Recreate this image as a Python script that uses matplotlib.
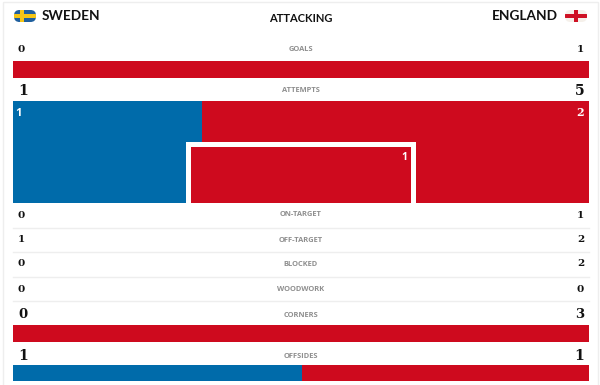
import matplotlib
matplotlib.use("Agg")
import matplotlib.pyplot as plt
from matplotlib.patches import FancyBboxPatch, Rectangle

# values
teams = ["SWEDEN", "ENGLAND"]
title = "ATTACKING"
stats = ["GOALS", "ATTEMPTS", "ON-TARGET", "OFF-TARGET", "BLOCKED", "WOODWORK", "CORNERS", "OFFSIDES"]
home_vals = ["0", "1", "0", "1", "0", "0", "0", "1"]
away_vals = ["1", "5", "1", "2", "2", "0", "3", "1"]

# bar shares in percent (blue side of the full width)
goals_share = [0, 100]
attempts_share = [32.8, 67.2]
corners_share = [0, 100]
offsides_share = [50.2, 49.8]
attempts_off = ["1", "2"]
attempts_on = "1"

BLUE = "#006BAA"
RED = "#CE0A1E"
GREY = "#8f8f8f"
DARK = "#111111"
NUM_FONT = ["DejaVu Serif", "Liberation Serif"]
HEAD_FONT = ["Lato", "DejaVu Sans"]
LAB_FONT = ["Open Sans", "DejaVu Sans"]

LEFT = 13
FULL = 576

fig = plt.figure(figsize=(6, 3.85), dpi=100)
ax = fig.add_axes([0, 0, 1, 1])
ax.set_xlim(0, 600)
ax.set_ylim(385, 0)
ax.axis("off")


def share_bar(y0, y1, share):
    w0 = FULL * share[0] / 100
    w1 = FULL * share[1] / 100
    yc = (y0 + y1) / 2
    ax.barh(yc, w0, y1 - y0, left=LEFT, color=BLUE, lw=0, zorder=2)
    ax.barh(yc, w1, y1 - y0, left=LEFT + w0, color=RED, lw=0, zorder=2)


def flag(x0, y0, w, h, base, cross, cx):
    box = FancyBboxPatch((x0 + 3, y0 + 3), w - 6, h - 6, boxstyle="round,pad=3,rounding_size=5.5",
                         fc=base, ec="none", zorder=3)
    ax.add_patch(box)
    r1 = Rectangle((x0, y0 + h / 2 - 1.7), w, 3.4, fc=cross, ec="none", zorder=4)
    r2 = Rectangle((cx - 1.7, y0), 3.4, h, fc=cross, ec="none", zorder=4)
    ax.add_patch(r1)
    ax.add_patch(r2)
    r1.set_clip_path(box)
    r2.set_clip_path(box)


# card outline
ax.add_patch(Rectangle((2.5, 1.5), 595, 390, fc="white", ec="#eeeeee", lw=1, zorder=0))

# header
flag(14, 10, 22, 12, "#1F5F9E", "#F4C516", 22)
flag(565, 10, 22, 12, "#F5F0EA", "#CE1124", 576)
ax.text(42, 16, teams[0], fontsize=9.8, family=HEAD_FONT, color=DARK, va="center", ha="left", weight="bold")
ax.text(558, 16, teams[1], fontsize=9.8, family=HEAD_FONT, color=DARK, va="center", ha="right", weight="bold")
ax.text(300.5, 18, title, fontsize=8, family=HEAD_FONT, color=DARK, va="center", ha="center", weight="bold")

# stat rows
row_y = [49, 91, 215, 240, 264, 289, 315, 356]
label_y = [49.5, 91, 215, 240, 264.5, 289.5, 315.5, 356]
num_size = [7.5, 10, 7.5, 7.5, 7.5, 7.5, 9.5, 10]
for i in range(len(stats)):
    ax.text(300.5, label_y[i], stats[i], fontsize=5.4, family=LAB_FONT, color=GREY, weight="bold", va="center", ha="center")
    ax.text(18, row_y[i], home_vals[i], fontsize=num_size[i], family=NUM_FONT, color=DARK, weight="bold", va="center", ha="left")
    ax.text(584, row_y[i], away_vals[i], fontsize=num_size[i], family=NUM_FONT, color=DARK, weight="bold", va="center", ha="right")

for y in [227.5, 252, 276.5, 301]:
    ax.plot([LEFT, LEFT + FULL], [y, y], color="#eeeeee", lw=1, zorder=1)

# bars
share_bar(61, 77.5, goals_share)
share_bar(101, 203, attempts_share)
share_bar(325, 342, corners_share)
share_bar(365, 381, offsides_share)

# on-target goal frame inside the attempts bar
ax.add_patch(Rectangle((185.5, 141.5), 230.5, 61.5, fc="white", ec="none", zorder=3))
ax.add_patch(Rectangle((190.5, 146.5), 220.5, 56.5, fc=RED, ec="none", zorder=4))

ax.text(19, 113, attempts_off[0], fontsize=8, family=LAB_FONT, color="white", weight="bold", va="center", ha="center", zorder=5)
ax.text(580.5, 113, attempts_off[1], fontsize=8, family=NUM_FONT, color="white", weight="bold", va="center", ha="center", zorder=5)
ax.text(404, 158, attempts_on, fontsize=7.5, family=LAB_FONT, color="white", weight="bold", va="center", ha="center", zorder=5)

fig.savefig("out.png", dpi=100)
